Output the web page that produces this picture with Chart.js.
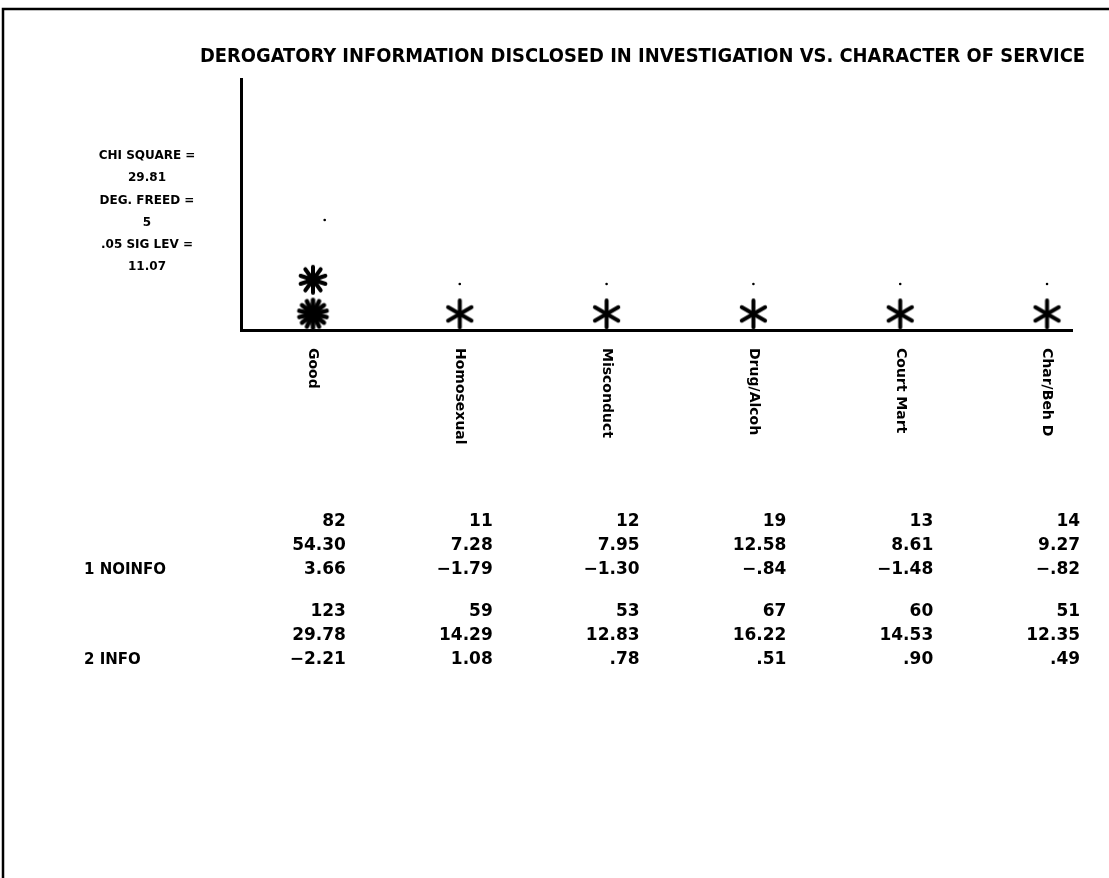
<!DOCTYPE html>
<html>
<head>
<meta charset="utf-8">
<script src="https://cdn.jsdelivr.net/npm/chart.js@4/dist/chart.umd.min.js"></script>
<style>
  html, body { margin: 0; padding: 0; background: #fff; }
  #wrap { width: 1109px; height: 878px; }
</style>
</head>
<body>
<div id="wrap"><canvas id="chart" width="1109" height="878"></canvas></div>
<script>
// Character of service categories (x axis)
const categories = ['Good', 'Homosexual', 'Misconduct', 'Drug/Alcoh', 'Court Mart', 'Char/Beh D'];

// Plotted marks, in y-axis units
const lowerStars = [6.4, 6.4, 6.4, 6.4, 6.4, 6.4];
const upperStarGood = 20;
const dotPositions = [0.08, 1, 2, 3, 4, 5];
const dotLevels = [43.8, 18.3, 18.3, 18.3, 18.3, 18.3];

// Crosstab rows: count, row percent, standardized residual
const noInfoCounts = ['82', '11', '12', '19', '13', '14'];
const noInfoPercent = ['54.30', '7.28', '7.95', '12.58', '8.61', '9.27'];
const noInfoResid = ['3.66', '-1.79', '-1.30', '-.84', '-1.48', '-.82'];
const infoCounts = ['123', '59', '53', '67', '60', '51'];
const infoPercent = ['29.78', '14.29', '12.83', '16.22', '14.53', '12.35'];
const infoResid = ['-2.21', '1.08', '.78', '.51', '.90', '.49'];
const rowLabels = ['1 NOINFO', '2 INFO'];

// Test statistics shown at the left
const statLines = ['CHI SQUARE =', '29.81', 'DEG. FREED =', '5', '.05 SIG LEV =', '11.07'];

const chartTitle = 'DEROGATORY INFORMATION DISCLOSED IN INVESTIGATION VS. CHARACTER OF SERVICE';

// Asterisk markers drawn on small canvases
function asterisk(rays, radius, width, core) {
  const size = Math.ceil(radius * 2 + width + 4);
  const c = document.createElement('canvas');
  c.width = size; c.height = size;
  const g = c.getContext('2d');
  const m = size / 2;
  g.strokeStyle = '#000';
  g.fillStyle = '#000';
  g.lineWidth = width;
  g.lineCap = 'round';
  for (let k = 0; k < rays; k++) {
    const a = -Math.PI / 2 + k * 2 * Math.PI / rays;
    g.beginPath();
    g.moveTo(m, m);
    g.lineTo(m + radius * Math.cos(a), m + radius * Math.sin(a));
    g.stroke();
  }
  if (core) {
    g.beginPath();
    g.arc(m, m, core, 0, Math.PI * 2);
    g.fill();
  }
  return c;
}
const star6 = asterisk(6, 13.5, 4, 0);
const star8 = asterisk(10, 13, 4, 4);
const star12 = asterisk(14, 14, 4.5, 9);

const minus = s => s.replace('-', '\u2212');

const pagePlugin = {
  id: 'pagePlugin',
  beforeDraw(chart) {
    const ctx = chart.ctx;
    ctx.save();
    ctx.fillStyle = '#fff';
    ctx.fillRect(0, 0, chart.width, chart.height);
    // outer frame
    ctx.strokeStyle = '#000';
    ctx.lineWidth = 2.5;
    ctx.beginPath();
    ctx.moveTo(3, 878);
    ctx.lineTo(3, 9);
    ctx.lineTo(1109, 9);
    ctx.stroke();
    ctx.restore();
  },
  afterDraw(chart) {
    const ctx = chart.ctx;
    const xs = chart.scales.x;
    ctx.save();
    ctx.fillStyle = '#000';

    // title
    ctx.font = 'bold 20px "DejaVu Sans Condensed", "DejaVu Sans"';
    ctx.textAlign = 'left';
    ctx.textBaseline = 'middle';
    ctx.fillText(chartTitle, 200, 57, 885);

    // statistics block
    ctx.font = 'bold 12px "DejaVu Sans"';
    ctx.textAlign = 'center';
    statLines.forEach((t, i) => {
      ctx.fillText(t, 147, 156 + i * 22.2, 100);
    });

    // rotated category labels
    ctx.font = 'bold 14px "DejaVu Sans"';
    ctx.textAlign = 'left';
    ctx.textBaseline = 'middle';
    categories.forEach((c, i) => {
      const x = xs.getPixelForValue(i);
      ctx.save();
      ctx.translate(x, 348);
      ctx.rotate(Math.PI / 2);
      ctx.fillText(c, 0, 0);
      ctx.restore();
    });

    // crosstab figures
    const rows = [
      [noInfoCounts, 522], [noInfoPercent, 546], [noInfoResid, 570],
      [infoCounts, 612], [infoPercent, 636], [infoResid, 660]
    ];
    ctx.font = 'bold 17px "DejaVu Sans"';
    ctx.textAlign = 'right';
    rows.forEach(([vals, y]) => {
      vals.forEach((v, i) => {
        ctx.fillText(minus(v), xs.getPixelForValue(i) + 33, y);
      });
    });
    ctx.font = 'bold 15px "DejaVu Sans"';
    ctx.textAlign = 'left';
    ctx.fillText(rowLabels[0], 84, 570);
    ctx.fillText(rowLabels[1], 84, 660);
    ctx.restore();
  }
};

new Chart(document.getElementById('chart'), {
  type: 'scatter',
  data: {
    datasets: [
      {
        label: 'lower',
        data: categories.map((c, i) => ({ x: i, y: lowerStars[i] })),
        pointStyle: categories.map((c, i) => (i === 0 ? star12 : star6)),
        clip: false
      },
      {
        label: 'upper',
        data: [{ x: 0, y: upperStarGood }],
        pointStyle: star8,
        clip: false
      },
      {
        label: 'dots',
        data: dotLevels.map((v, i) => ({ x: dotPositions[i], y: v })),
        pointStyle: 'circle',
        pointRadius: 1.3,
        backgroundColor: '#000',
        borderColor: '#000',
        borderWidth: 0,
        clip: false
      }
    ]
  },
  options: {
    responsive: false,
    animation: false,
    devicePixelRatio: 1,
    layout: { padding: { left: 241, right: 37, top: 79, bottom: 548 } },
    plugins: {
      legend: { display: false },
      tooltip: { enabled: false },
      title: { display: false }
    },
    scales: {
      x: {
        type: 'linear',
        min: -0.49,
        max: 5.17,
        ticks: { display: false },
        grid: { display: false, drawTicks: false },
        border: { display: true, color: '#000', width: 3 }
      },
      y: {
        type: 'linear',
        min: 0,
        max: 100,
        ticks: { display: false },
        grid: { display: false, drawTicks: false },
        border: { display: true, color: '#000', width: 3 }
      }
    }
  },
  plugins: [pagePlugin]
});
</script>
</body>
</html>
